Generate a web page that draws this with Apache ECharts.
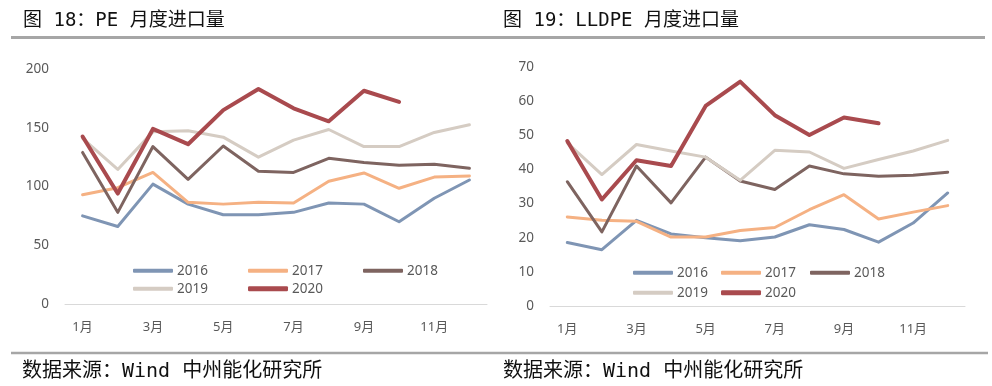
<!DOCTYPE html>
<html>
<head>
<meta charset="utf-8">
<script src="https://cdn.jsdelivr.net/npm/echarts@6/dist/echarts.min.js"></script>
<style>
html,body{margin:0;padding:0;background:#fff;}
#chart{width:992px;height:386px;}
</style>
</head>
<body>
<div id="chart"></div>
<script>
const months = ['1月','2月','3月','4月','5月','6月','7月','8月','9月','10月','11月','12月'];
const years = ['2016','2017','2018','2019','2020'];
const colors = ['#7F95B4','#F5B183','#7E6460','#D5CCC3','#A94A4E'];

// 图18 PE 月度进口量
const pe2016 = [75, 66, 102, 85, 76, 76, 78, 86, 85, 70, 90, 105.5];
const pe2017 = [93, 99, 112, 86.5, 85, 86.5, 86, 104.5, 111.5, 98.5, 108, 109];
const pe2018 = [129, 78, 134, 106, 134.5, 113, 112, 124, 120.5, 118, 119, 115.5];
const pe2019 = [141, 114.5, 146.5, 147.5, 142, 125, 139.5, 148.5, 134, 134, 146, 152.5];
const pe2020 = [142.5, 94, 149, 136, 165, 183, 166.5, 155.5, 181.5, 172];

// 图19 LLDPE 月度进口量
const ll2016 = [18.6, 16.5, 25.1, 21.1, 20, 19.1, 20.2, 23.8, 22.4, 18.7, 24.3, 33.1];
const ll2017 = [26.1, 25.1, 24.8, 20.2, 20.2, 22.1, 23, 28.2, 32.6, 25.5, 27.5, 29.4];
const ll2018 = [36.4, 21.7, 41, 30.2, 43.6, 36.6, 34.1, 41, 38.7, 38, 38.3, 39.2];
const ll2019 = [47.8, 38.5, 47.3, 45.4, 43.6, 36.8, 45.6, 45.1, 40.3, 42.9, 45.4, 48.5];
const ll2020 = [48.3, 31.2, 42.7, 41, 58.6, 65.7, 55.9, 50.1, 55.2, 53.5];

const peTicks = {min: 0, max: 200, interval: 50};
const llTicks = {min: 0, max: 70, interval: 10};

const peData = [pe2016, pe2017, pe2018, pe2019, pe2020];
const llData = [ll2016, ll2017, ll2018, ll2019, ll2020];

const labelColor = '#595959';
const fontFam = '"Noto Sans", "Noto Sans CJK SC", sans-serif';

function xAxis(gi) {
  return {
    type: 'category', gridIndex: gi, data: months, boundaryGap: true,
    axisLine: {lineStyle: {color: '#D9D9D9', width: 1}},
    axisTick: {show: false},
    axisLabel: {interval: 1, color: labelColor, fontSize: 13, fontFamily: fontFam, margin: 17}
  };
}
function yAxis(gi, t) {
  return {
    type: 'value', gridIndex: gi, min: t.min, max: t.max, interval: t.interval,
    axisLine: {show: false}, axisTick: {show: false}, splitLine: {show: false},
    axisLabel: {color: labelColor, fontSize: 13.5, fontFamily: fontFam, margin: 16}
  };
}

const series = [];
[peData, llData].forEach((set, gi) => {
  set.forEach((arr, i) => {
    series.push({
      name: years[i], type: 'line', xAxisIndex: gi, yAxisIndex: gi,
      data: arr, symbol: 'none', smooth: false, color: colors[i],
      lineStyle: {width: i === 4 ? 4 : 3, color: colors[i], cap: 'round', join: 'round'},
      emphasis: {disabled: true}, z: 2 + i
    });
  });
});

const legendPos = [
  // left chart
  [133, 264], [248, 264], [363, 264], [133, 282], [248, 282],
  // right chart
  [633, 266], [721, 266], [810, 266], [633, 286], [721, 286]
];
const legends = legendPos.map((p, k) => {
  const i = k % 5;
  return {
    left: p[0], top: p[1], padding: 0, selectedMode: false,
    data: [{name: years[i]}],
    icon: 'roundRect', itemWidth: 40, itemHeight: i === 4 ? 5 : 4, itemGap: 0,
    textStyle: {color: labelColor, fontSize: 13.5, fontFamily: fontFam, padding: [0, 0, 0, -1]}
  };
});

const titleFont = '"DejaVu Sans Mono", "Noto Sans CJK SC", monospace';
function txt(x, y, s, size) {
  return {type: 'text', x: x, y: y, style: {text: s, font: size + 'px ' + titleFont, fill: '#111', textAlign: 'left', textVerticalAlign: 'middle'}};
}
const chart = echarts.init(document.getElementById('chart'), null, {renderer: 'canvas'});
chart.setOption({
  backgroundColor: '#fff',
  animation: false,
  grid: [
    {left: 65, top: 69, width: 422, height: 235},
    {left: 550, top: 67, width: 415, height: 239}
  ],
  xAxis: [xAxis(0), xAxis(1)],
  yAxis: [yAxis(0, peTicks), yAxis(1, llTicks)],
  legend: legends,
  series: series,
  graphic: [
    txt(23, 21, '图 18：PE 月度进口量', 19),
    txt(503, 21, '图 19：LLDPE 月度进口量', 19),
    {type: 'line', shape: {x1: 11, y1: 37.5, x2: 985, y2: 37.5}, style: {stroke: '#A6A6A6', lineWidth: 3}},
    {type: 'line', shape: {x1: 11, y1: 353, x2: 988, y2: 353}, style: {stroke: '#A6A6A6', lineWidth: 2.5}},
    txt(22, 372, '数据来源：Wind 中州能化研究所', 20),
    txt(503, 372, '数据来源：Wind 中州能化研究所', 20)
  ]
});
</script>
</body>
</html>
